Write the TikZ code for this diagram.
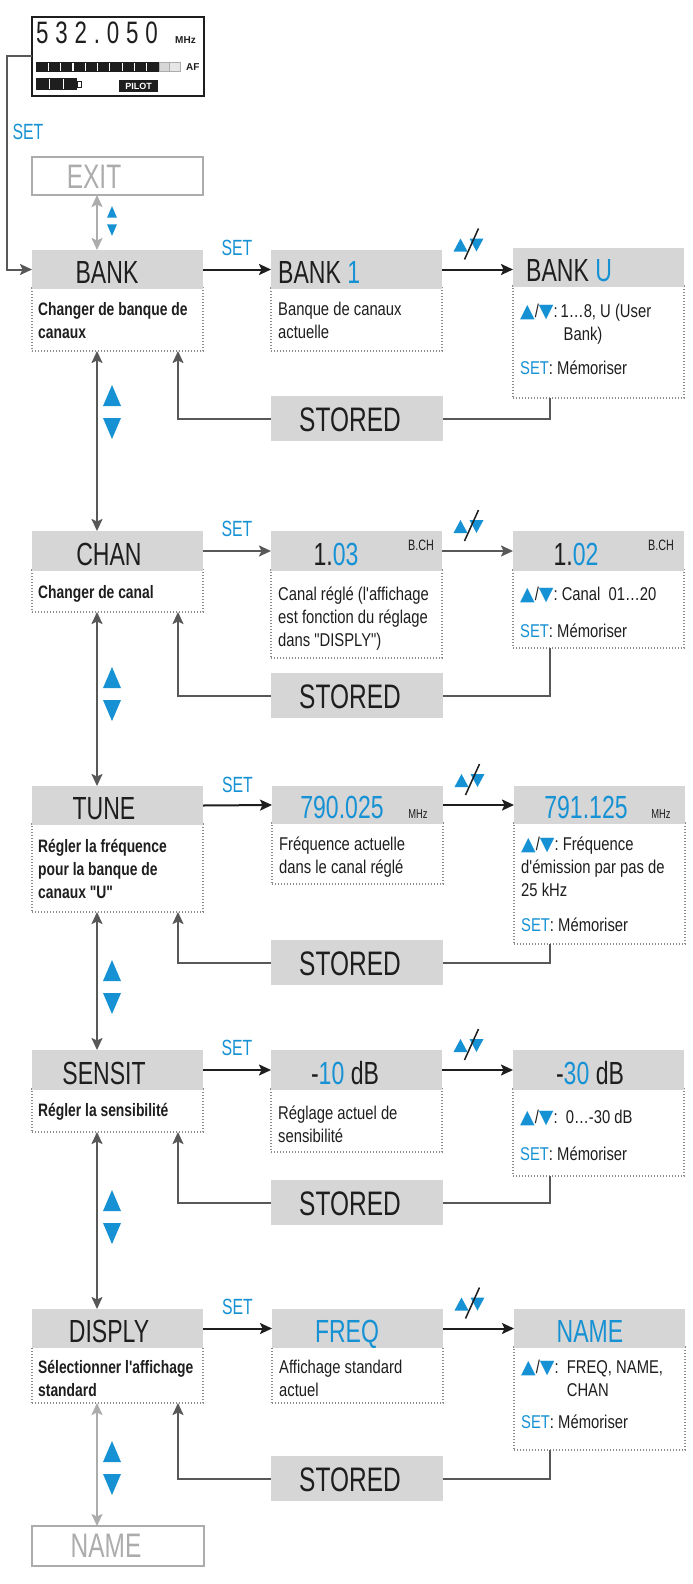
\documentclass[tikz,border=0pt]{standalone}
\usepackage{fontspec}
\setmainfont{Liberation Sans}
\newfontfamily\hd[FakeStretch=0.72]{Liberation Sans}
\newfontfamily\lcdf[FakeStretch=0.72,LetterSpace=22]{Liberation Sans}
\newfontfamily\cd[FakeStretch=0.8]{Liberation Sans}
\newfontfamily\cdb[FakeStretch=0.77]{Liberation Sans}
\newfontfamily\dv{DejaVu Sans}
\usetikzlibrary{arrows.meta,calc}
\definecolor{myblue}{RGB}{22,146,212}
\definecolor{hdgray}{RGB}{214,214,214}
\definecolor{lgray}{RGB}{172,172,172}
\definecolor{dgray}{RGB}{88,88,88}
\definecolor{dotgray}{RGB}{140,140,140}
\definecolor{txt}{RGB}{30,30,30}
\newcommand\hdfont{\hd\fontsize{32}{32}\selectfont}
\newcommand\stfont{\hd\fontsize{34}{34}\selectfont}
\newcommand\dfont{\cd\fontsize{18.5}{23}\selectfont}
\newcommand\bfont{\cdb\bfseries\fontsize{18}{23}\selectfont}
\newcommand\setfont{\hd\fontsize{22}{22}\selectfont}
\newcommand\smfont{\hd\fontsize{15}{15}\selectfont}
\newcommand\tri[1]{\textcolor{myblue}{\dv\fontsize{19}{19}\selectfont #1}}
\newcommand\udl{\tri{▲}/\tri{▼}:}
\newcommand\setm{\textcolor{myblue}{SET}: Mémoriser}
\tikzset{
  hdr/.style={fill=hdgray, inner sep=0pt, outer sep=0pt, anchor=north west, minimum width=171pt, minimum height=39pt},
  dbox/.style={draw=dotgray, line width=1.1pt, dash pattern=on 1.1pt off 1.9pt, inner sep=0pt, outer sep=0pt, anchor=north west, minimum width=171pt},
  gbox/.style={draw=lgray, line width=1.6pt, inner sep=0pt, outer sep=0pt, anchor=north west, minimum width=171pt, minimum height=38pt},
  stbox/.style={fill=hdgray, inner sep=0pt, outer sep=0pt, anchor=north west, minimum width=172pt, minimum height=45pt},
  htxt/.style={inner sep=0pt, anchor=base, text=txt, font=\hdfont},
  dtxt/.style={inner sep=0pt, anchor=base west, align=flush left, text=txt, font=\dfont, text width=168pt},
  btxt/.style={dtxt, font=\bfont},
  settxt/.style={text=myblue, font=\setfont, inner sep=0pt},
  tip/.tip={Stealth[length=12pt,width=11pt,inset=2.5pt]},
  gline/.style={draw=dgray, line width=2pt},
  gdbl/.style={draw=dgray, line width=2pt, tip-tip},
  lgdbl/.style={draw=lgray, line width=2pt, tip-tip},
  barr/.style={draw=txt, line width=2pt, -tip},
  garr/.style={draw=dgray, line width=2pt, -tip},
  updn/.pic={
    \fill[myblue] (-15,7) -- (-1,7) -- (-8,-6) -- cycle;
    \fill[myblue] (1,-6) -- (15,-6) -- (8,7) -- cycle;
    \draw[line width=1.5pt, txt] (-4,15) -- (10,-16);
  },
  tritwo/.pic={
    \fill[myblue] (-9,-6) -- (9,-6) -- (0,-27) -- cycle;
    \fill[myblue] (-9,6) -- (9,6) -- (0,27) -- cycle;
  }
}
\begin{document}
\begin{tikzpicture}[x=1pt,y=-1pt]
\useasboundingbox (0,0) rectangle (693,1584);
\fill[white] (0,0) rectangle (693,1584);

% ---------- LCD ----------
\node[draw=txt, line width=1.6pt, inner sep=0pt, outer sep=0pt, anchor=north west, minimum width=172pt, minimum height=79pt] (lcd) at (32,17) {};
\node[inner sep=0pt, anchor=base west, text=txt, font={\lcdf\fontsize{31}{31}\selectfont}] (lcdnum) at (36,44) {532.050};
\node[inner sep=0pt, anchor=base west, text=txt, font={\bfseries\fontsize{10}{10}\selectfont}] (lcdmhz) at (175,44) {MHz};
\fill[txt] (36,62) rectangle (159,72);
\foreach \i in {1,...,9} {\fill[white] (36+12.3*\i-0.6,63) rectangle (36+12.3*\i+0.6,71);}
\draw[lgray, fill=hdgray, line width=0.8pt] (159,62.5) rectangle (169,71.5);
\draw[lgray, fill=hdgray!60, line width=0.8pt] (169,62.5) rectangle (180,71.5);
\node[inner sep=0pt, anchor=base west, text=txt, font={\bfseries\fontsize{10}{10}\selectfont}] (lcdaf) at (186,71) {AF};
\fill[txt] (36,78) rectangle (77,90);
\foreach \i in {1,2} {\fill[white] (36+13.7*\i-0.6,79) rectangle (36+13.7*\i+0.6,89);}
\draw[txt, line width=0.8pt] (77,81) rectangle (81,87);
\node[fill=txt, text=white, inner sep=1.5pt, font={\bfseries\fontsize{9}{9}\selectfont}, anchor=north west, minimum width=39pt, minimum height=12pt] (pilot) at (119,80) {PILOT};

\node[settxt, anchor=center] (topset) at (28,132) {SET};

% ---------- EXIT ----------
\node[gbox] (exit) at (32,157) {};
\node[inner sep=0pt, anchor=base, text=lgray, font=\stfont] (exitt) at (94,188) {EXIT};

% ---------- Row 1 : BANK ----------
\node[dbox, minimum height=63pt] (bankd) at (32,288) {};
\node[hdr] (bank) at (32,250) {};
\node[htxt] (bankt) at (107,283) {BANK};
\node[btxt] (bankdt) at (38,315) {Changer de banque de\\canaux};

\node[dbox, minimum height=63pt] (bank1d) at (271,288) {};
\node[hdr] (bank1) at (271,250) {};
\node[htxt, anchor=base west] (bank1t) at (278,283) {BANK \textcolor{myblue}{1}};
\node[dtxt] (bank1dt) at (278,315) {Banque de canaux\\actuelle};

\node[dbox, minimum height=112pt] (bankud) at (513,286) {};
\node[hdr] (banku) at (513,248) {};
\node[htxt, anchor=base west] (bankut) at (526,281) {BANK \textcolor{myblue}{U}};
\node[dtxt] (bankudt) at (520,317) {\udl\,\parbox[t]{120pt}{1…8, U (User\\\hspace*{3pt}Bank)}\\[16pt]\setm};

\node[stbox] (stored1) at (271,396) {};
\node[inner sep=0pt, anchor=base, text=txt, font=\stfont] (st1t) at (350,431) {STORED};

\draw[barr] (bank.east) -- node[settxt, midway, yshift=22pt] (set1) {SET} (bank1.west);
\draw[barr] (bank1.east) -- (banku.west |- bank1.east);
\pic at ($(bank1.east)!0.5!(banku.west |- bank1.east)+(-9,-25)$) {updn};
\draw[gline] ([xshift=37pt]bankud.south west) |- (stored1.east);
\draw[gline, -tip] (stored1.west) -| ([xshift=146pt]bankd.south west);

% ---------- Row 2 : CHAN ----------
\node[dbox, minimum height=42pt] (chand) at (32,570) {};
\node[hdr, minimum height=40pt] (chan) at (32,531) {};
\node[htxt] (chant) at (109,565) {CHAN};
\node[btxt] (chandt) at (38,598) {Changer de canal};

\node[dbox, minimum height=88pt] (ch1d) at (271,570) {};
\node[hdr, minimum height=40pt] (ch1) at (271,531) {};
\node[htxt] (ch1t) at (336,565) {1.\textcolor{myblue}{03}};
\node[inner sep=0pt, anchor=base, text=txt, font=\smfont] (ch1b) at (421,550) {B.CH};
\node[dtxt] (ch1dt) at (278,600) {Canal réglé (l'affichage\\est fonction du réglage\\dans "DISPLY")};

\node[dbox, minimum height=78pt] (ch2d) at (513,570) {};
\node[hdr, minimum height=40pt] (ch2) at (513,531) {};
\node[htxt] (ch2t) at (576,565) {1.\textcolor{myblue}{02}};
\node[inner sep=0pt, anchor=base, text=txt, font=\smfont] (ch2b) at (661,550) {B.CH};
\node[dtxt] (ch2dt) at (520,600) {\udl\ Canal\ \ 01…20\\[14pt]\setm};

\node[stbox] (stored2) at (271,673) {};
\node[inner sep=0pt, anchor=base, text=txt, font=\stfont] (st2t) at (350,708) {STORED};

\draw[garr] (chan.east) -- node[settxt, midway, yshift=22pt] (set2) {SET} (ch1.west);
\draw[garr] (ch1.east) -- (ch2.west);
\pic at ($(ch1.east)!0.5!(ch2.west)+(-9,-25)$) {updn};
\draw[gline] ([xshift=37pt]ch2d.south west) |- (stored2.east);
\draw[gline, -tip] (stored2.west) -| ([xshift=146pt]chand.south west);

% ---------- Row 3 : TUNE ----------
\node[dbox, minimum height=88pt] (tuned) at (32,824) {};
\node[hdr] (tune) at (32,786) {};
\node[htxt] (tunet) at (104,819) {TUNE};
\node[btxt] (tunedt) at (38,852) {Régler la fréquence\\pour la banque de\\canaux "U"};

\node[dbox, minimum height=61pt] (tu1d) at (272,823) {};
\node[hdr, minimum height=38pt] (tu1) at (272,786) {};
\node[htxt, text=myblue] (tu1t) at (342,818) {790.025};
\node[inner sep=0pt, anchor=base, text=txt, font={\hd\fontsize{13}{13}\selectfont}] (tu1m) at (418,818) {MHz};
\node[dtxt] (tu1dt) at (279,850) {Fréquence actuelle\\dans le canal réglé};

\node[dbox, minimum height=121pt] (tu2d) at (514,823) {};
\node[hdr, minimum height=38pt] (tu2) at (514,786) {};
\node[htxt, text=myblue] (tu2t) at (586,818) {791.125};
\node[inner sep=0pt, anchor=base, text=txt, font={\hd\fontsize{13}{13}\selectfont}] (tu2m) at (661,818) {MHz};
\node[dtxt] (tu2dt) at (521,850) {\udl\ Fréquence\\d'émission par pas de\\25 kHz\\[12pt]\setm};

\node[stbox] (stored3) at (271,940) {};
\node[inner sep=0pt, anchor=base, text=txt, font=\stfont] (st3t) at (350,975) {STORED};

\draw[barr] (tune.east) -- node[settxt, midway, yshift=20pt] (set3) {SET} (tu1.west);
\draw[barr] (tu1.east) -- (tu2.west);
\pic at ($(tu1.east)!0.5!(tu2.west)+(-9,-25)$) {updn};
\draw[gline] ([xshift=36pt]tu2d.south west) |- (stored3.east);
\draw[gline, -tip] (stored3.west) -| ([xshift=146pt]tuned.south west);

% ---------- Row 4 : SENSIT ----------
\node[dbox, minimum height=43pt] (sensd) at (32,1089) {};
\node[hdr, minimum height=40pt] (sens) at (32,1050) {};
\node[htxt] (senst) at (104,1084) {SENSIT};
\node[btxt] (sensdt) at (38,1116) {Régler la sensibilité};

\node[dbox, minimum height=63pt] (se1d) at (271,1089) {};
\node[hdr, minimum height=40pt] (se1) at (271,1050) {};
\node[htxt] (se1t) at (345,1084) {-\textcolor{myblue}{10} dB};
\node[dtxt] (se1dt) at (278,1119) {Réglage actuel de\\sensibilité};

\node[dbox, minimum height=87pt] (se2d) at (513,1089) {};
\node[hdr, minimum height=40pt] (se2) at (513,1050) {};
\node[htxt] (se2t) at (590,1084) {-\textcolor{myblue}{30} dB};
\node[dtxt] (se2dt) at (520,1123) {\udl\ \ 0…-30 dB\\[14pt]\setm};

\node[stbox] (stored4) at (271,1180) {};
\node[inner sep=0pt, anchor=base, text=txt, font=\stfont] (st4t) at (350,1215) {STORED};

\draw[barr] (sens.east) -- node[settxt, midway, yshift=22pt] (set4) {SET} (se1.west);
\draw[barr] (se1.east) -- (se2.west);
\pic at ($(se1.east)!0.5!(se2.west)+(-9,-25)$) {updn};
\draw[gline] ([xshift=37pt]se2d.south west) |- (stored4.east);
\draw[gline, -tip] (stored4.west) -| ([xshift=146pt]sensd.south west);

% ---------- Row 5 : DISPLY ----------
\node[dbox, minimum height=56pt] (dispd) at (32,1347) {};
\node[hdr] (disp) at (32,1309) {};
\node[htxt] (dispt) at (109,1342) {DISPLY};
\node[btxt] (dispdt) at (38,1373) {Sélectionner l'affichage\\standard};

\node[dbox, minimum height=56pt] (di1d) at (272,1347) {};
\node[hdr] (di1) at (272,1309) {};
\node[htxt, text=myblue] (di1t) at (347,1342) {FREQ};
\node[dtxt] (di1dt) at (279,1373) {Affichage standard\\actuel};

\node[dbox, minimum height=103pt] (di2d) at (514,1347) {};
\node[hdr] (di2) at (514,1309) {};
\node[htxt, text=myblue] (di2t) at (590,1342) {NAME};
\node[dtxt] (di2dt) at (521,1373) {\udl\ \ \parbox[t]{120pt}{FREQ, NAME,\\CHAN}\\[18pt]\setm};

\node[stbox] (stored5) at (271,1456) {};
\node[inner sep=0pt, anchor=base, text=txt, font=\stfont] (st5t) at (350,1491) {STORED};

\draw[barr] (disp.east) -- node[settxt, midway, yshift=22pt] (set5) {SET} (di1.west);
\draw[barr] (di1.east) -- (di2.west);
\pic at ($(di1.east)!0.5!(di2.west)+(-9,-25)$) {updn};
\draw[gline] ([xshift=36pt]di2d.south west) |- (stored5.east);
\draw[gline, -tip] (stored5.west) -| ([xshift=146pt]dispd.south west);

% ---------- bottom NAME ----------
\node[gbox, minimum width=172pt, minimum height=40pt] (namebox) at (32,1526) {};
\node[inner sep=0pt, anchor=base, text=lgray, font=\stfont] (namet) at (106,1557) {NAME};

% ---------- vertical connectors ----------
\draw[gline, -tip] (lcd.west) -- ++(-25,0) |- (bank.west);
\draw[lgdbl] ([xshift=65pt]exit.south west) -- ([xshift=65pt]bank.north west);
\pic[scale=0.55] at (112,221) {tritwo};
\draw[gdbl] ([xshift=65pt]bankd.south west) -- ([xshift=65pt]chan.north west);
\pic at (112,412) {tritwo};
\draw[gdbl] ([xshift=65pt]chand.south west) -- ([xshift=65pt]tune.north west);
\pic at (112,694) {tritwo};
\draw[gdbl] ([xshift=65pt]tuned.south west) -- ([xshift=65pt]sens.north west);
\pic at (112,987) {tritwo};
\draw[gdbl] ([xshift=65pt]sensd.south west) -- ([xshift=65pt]disp.north west);
\pic at (112,1217) {tritwo};
\draw[lgdbl] ([xshift=65pt]dispd.south west) -- ([xshift=65pt]namebox.north west);
\pic at (112,1468) {tritwo};
\end{tikzpicture}
\end{document}
